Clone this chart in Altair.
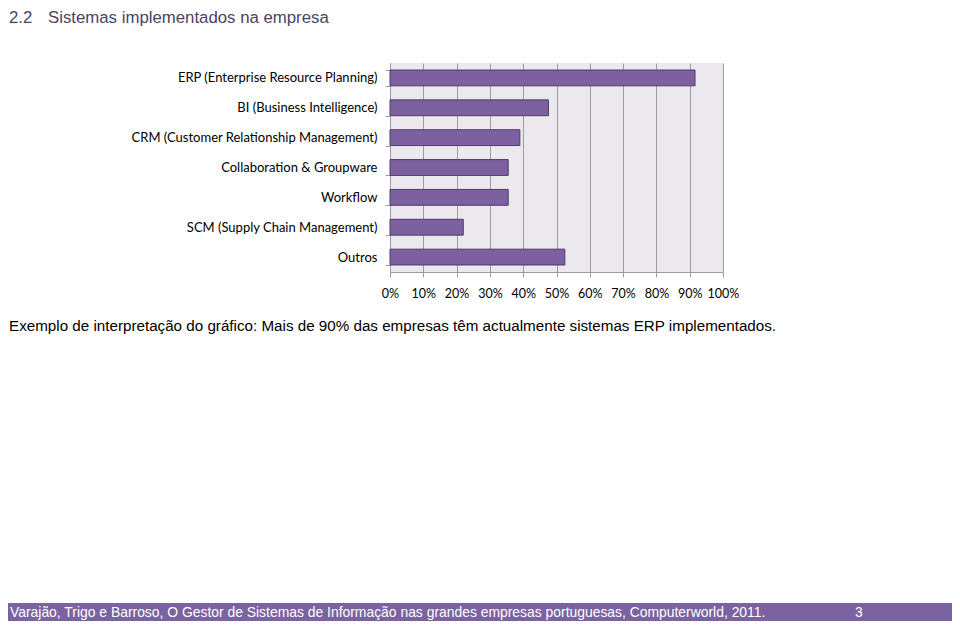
import altair as alt
import pandas as pd

categories = [
    "ERP (Enterprise Resource Planning)",
    "BI (Business Intelligence)",
    "CRM (Customer Relationship Management)",
    "Collaboration & Groupware",
    "Workflow",
    "SCM (Supply Chain Management)",
    "Outros",
]
values = [0.916, 0.476, 0.39, 0.355, 0.355, 0.22, 0.525]
x_ticks = [0, 0.1, 0.2, 0.3, 0.4, 0.5, 0.6, 0.7, 0.8, 0.9, 1.0]

title_num = "2.2"
title_text = "Sistemas implementados na empresa"
caption = "Exemplo de interpretação do gráfico: Mais de 90% das empresas têm actualmente sistemas ERP implementados."
footer = "Varajão, Trigo e Barroso, O Gestor de Sistemas de Informação nas grandes empresas portuguesas, Computerworld, 2011."
page_no = "3"

df = pd.DataFrame({"cat": categories, "val": values})

W, H = 333, 209
PL, PT = 382, 55
TOTAL_W, TOTAL_H = 944, 613

bars = alt.Chart(df).mark_bar(color="#7D60A0", stroke="#4E3D6B", strokeWidth=1).encode(
    x=alt.X("val:Q",
            scale=alt.Scale(domain=[0, 1], nice=False),
            axis=alt.Axis(values=x_ticks, format=".0%", title=None, grid=True,
                          gridColor="#9C9C9C", gridWidth=1, domainColor="#9C9C9C",
                          tickColor="#9C9C9C", tickSize=5, labelPadding=10,
                          labelOverlap=False, labelFlush=False,
                          labelFont="Lato", labelFontSize=12.5, labelColor="#000000")),
    y=alt.Y("cat:N", sort=categories,
            scale=alt.Scale(paddingInner=0.47, paddingOuter=0.235),
            axis=alt.Axis(title=None, tickBand="extent", grid=False,
                          domainColor="#9C9C9C", tickColor="#9C9C9C", tickSize=5,
                          labelPadding=8, labelFont="Lato", labelFontSize=13,
                          labelColor="#000000", labelLimit=400)),
)

one = pd.DataFrame({"t": [0]})

def txt(s, px, py, size, color, font="Liberation Sans"):
    return alt.Chart(one).mark_text(
        text=s, align="left", baseline="alphabetic", font=font,
        fontSize=size, color=color
    ).encode(x=alt.value(px - 390), y=alt.value(py - 63))

footer_rect = alt.Chart(one).mark_rect(color="#7B62A0").encode(
    x=alt.value(8 - 390), x2=alt.value(8 + TOTAL_W - 390),
    y=alt.value(603 - 63), y2=alt.value(8 + TOTAL_H - 63),
)

chart = alt.layer(
    bars,
    txt(title_num, 9, 23, 16.8, "#4A4466"),
    txt(title_text, 48, 23, 16.8, "#4A4466"),
    txt(caption, 9, 331, 15.2, "#000000"),
    footer_rect,
    txt(footer, 10, 617, 13.9, "#FFFFFF"),
    txt(page_no, 855, 617, 13.9, "#FFFFFF"),
).properties(
    width=W, height=H,
    padding={"left": PL, "top": PT, "right": TOTAL_W - PL - W, "bottom": TOTAL_H - PT - H},
    autosize=alt.AutoSizeParams(type="none"),
).configure_view(fill="#EBE8EE", stroke=None)

chart.save("out.html", embed_options={"renderer": "svg", "actions": False})
